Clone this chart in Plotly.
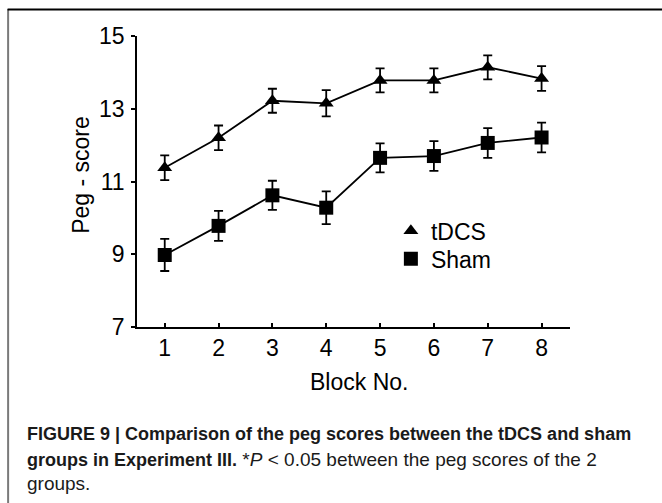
import plotly.graph_objects as go

# ---- data ----
blocks = [1, 2, 3, 4, 5, 6, 7, 8]
tdcs_mean = [11.38, 12.20, 13.22, 13.15, 13.78, 13.78, 14.14, 13.83]
tdcs_err = [0.34, 0.34, 0.33, 0.36, 0.33, 0.33, 0.33, 0.34]
sham_mean = [8.98, 9.78, 10.62, 10.28, 11.65, 11.70, 12.06, 12.21]
sham_err = [0.44, 0.41, 0.40, 0.45, 0.40, 0.41, 0.41, 0.41]
y_ticks = [7, 9, 11, 13, 15]
x_title = "Block No."
y_title = "Peg - score"
caption_lines = [
    "<b><span style='font-size:18px'>FIGURE 9 | Comparison of the peg scores between the tDCS and sham</span></b>",
    "<b><span style='font-size:18px'>groups in Experiment III.</span></b> *<i>P</i> &lt; 0.05 between the peg scores of the 2",
    "groups.",
]

# ---- layout geometry (pixels) ----
W, H = 662, 503
L, R, T, B = 137.3, 570.0, 36.0, 326.7


def px_x(x):
    return (x - L) / (R - L)


def px_y(y):
    return (B - y) / (B - T)


FONT = "Liberation Sans, Arial, sans-serif"
CAP_FONT = "Liberation Sans, Arial, sans-serif"

fig = go.Figure()

fig.add_trace(go.Scatter(
    x=blocks, y=tdcs_mean, mode="lines+markers", showlegend=False,
    line=dict(color="black", width=1.8),
    marker=dict(symbol="triangle-up", size=13, color="black"),
    error_y=dict(type="data", array=tdcs_err, color="black", thickness=1.8, width=4.5),
))
fig.add_trace(go.Scatter(
    x=blocks, y=sham_mean, mode="lines+markers", showlegend=False,
    line=dict(color="black", width=1.8),
    marker=dict(symbol="square", size=14, color="black"),
    error_y=dict(type="data", array=sham_err, color="black", thickness=1.8, width=4.5),
))

# legend-only entries
fig.add_trace(go.Scatter(x=[None], y=[None], mode="markers", name="tDCS", legend="legend",
                         marker=dict(symbol="triangle-up", size=13, color="black")))
fig.add_trace(go.Scatter(x=[None], y=[None], mode="markers", name="Sham", legend="legend2",
                         marker=dict(symbol="square", size=14, color="black")))

# significance bracket between last points
bx0, bx1 = 8.53, 8.745
ytop, ybot = tdcs_mean[-1], sham_mean[-1]
fig.add_shape(type="path", xref="x", yref="y",
              path=f"M {bx0},{ytop} L {bx1},{ytop} L {bx1},{ybot} L {bx0},{ybot}",
              line=dict(color="black", width=1.8))

annotations = [
    dict(text="*", x=8.96, y=(ytop + ybot) / 2, xref="x", yref="y", showarrow=False,
         font=dict(family=FONT, size=30, color="black"), xanchor="center", yanchor="middle", yshift=-11),
    dict(text=y_title, x=px_x(81), y=px_y(175), xref="paper", yref="paper", showarrow=False,
         textangle=-90, font=dict(family=FONT, size=23, color="black"), xanchor="center", yanchor="middle"),
    dict(text=x_title, x=px_x(359), y=px_y(382), xref="paper", yref="paper", showarrow=False,
         font=dict(family=FONT, size=23, color="black"), xanchor="center", yanchor="middle"),
]
for i, line in enumerate(caption_lines):
    annotations.append(dict(text=line, x=px_x(25), y=px_y([434, 459, 483][i]), xref="paper", yref="paper",
                            showarrow=False, xanchor="left", yanchor="middle",
                            font=dict(family=CAP_FONT, size=19, color="#1a1a1a")))

# outer frame lines
fig.add_shape(type="line", xref="paper", yref="paper", x0=px_x(8.5), x1=px_x(8.5), y0=px_y(9), y1=px_y(503),
              line=dict(color="#7a7a7a", width=2))
fig.add_shape(type="line", xref="paper", yref="paper", x0=px_x(8), x1=px_x(662), y0=px_y(9.5), y1=px_y(9.5),
              line=dict(color="black", width=2))

fig.update_layout(
    width=W, height=H,
    margin=dict(l=L, r=W - R, t=T, b=H - B, pad=0),
    paper_bgcolor="white", plot_bgcolor="white",
    font=dict(family=FONT, size=23, color="black"),
    annotations=annotations,
    legend=dict(x=px_x(391), y=px_y(209), xanchor="left", yanchor="top", bgcolor="rgba(0,0,0,0)",
                font=dict(family=FONT, size=23, color="black")),
    legend2=dict(x=px_x(391), y=px_y(237), xanchor="left", yanchor="top", bgcolor="rgba(0,0,0,0)",
                 font=dict(family=FONT, size=23, color="black")),
    xaxis=dict(range=[0.485, 8.528], tickmode="array", tickvals=blocks, ticktext=[str(b) for b in blocks],
               ticks="inside", ticklen=4, tickwidth=1.5, tickcolor="black",
               showline=True, linecolor="black", linewidth=1.7, showgrid=False, zeroline=False,
               tickfont=dict(family=FONT, size=23, color="black")),
    yaxis=dict(range=[7, 15], tickmode="array", tickvals=y_ticks, ticktext=[str(v) for v in y_ticks],
               ticks="outside", ticklen=4, tickwidth=1.5, tickcolor="black",
               showline=True, linecolor="black", linewidth=1.7, showgrid=False, zeroline=False,
               ticklabelstandoff=2,
               tickfont=dict(family=FONT, size=23, color="black")),
)

fig.write_html("out.html", config={"displayModeBar": False})
